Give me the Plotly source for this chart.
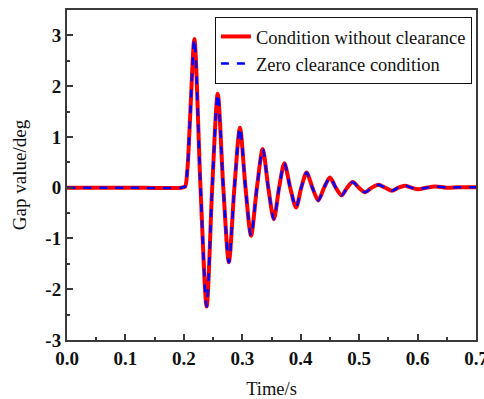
import plotly.graph_objects as go

# Time (s) at extrema / zero crossings
time_s = [0.0, 0.100, 0.196, 0.202, 0.206, 0.211, 0.218, 0.2285, 0.239, 0.2485, 0.258,
          0.2675, 0.277, 0.2865, 0.296, 0.3055, 0.315, 0.325, 0.335, 0.3445,
          0.354, 0.363, 0.372, 0.382, 0.392, 0.401, 0.410, 0.420, 0.430, 0.440,
          0.450, 0.460, 0.470, 0.4795, 0.489, 0.4995, 0.510, 0.5215, 0.533,
          0.5445, 0.556, 0.567, 0.578, 0.5895, 0.601, 0.615, 0.630, 0.650,
          0.670, 0.700]

# Gap value (deg), condition without clearance
gap_without = [0.0, 0.0, 0.0, 0.02, 0.35, 1.46, 2.93, 0.0, -2.34, 0.0, 1.85,
               0.0, -1.47, 0.0, 1.18, 0.0, -0.945, 0.0, 0.76, 0.0,
               -0.62, 0.0, 0.48, 0.0, -0.39, 0.0, 0.30, 0.0, -0.25, 0.0,
               0.20, 0.0, -0.15, 0.0, 0.11, 0.0, -0.09, 0.0, 0.06,
               0.0, -0.06, 0.0, 0.04, 0.0, -0.03, 0.0, 0.025, 0.0,
               0.01, 0.01]

# Gap value (deg), zero clearance condition
gap_zero = [0.0, 0.0, 0.0, 0.02, 0.35, 1.46, 2.93, 0.0, -2.34, 0.0, 1.85,
            0.0, -1.47, 0.0, 1.18, 0.0, -0.945, 0.0, 0.76, 0.0,
            -0.62, 0.0, 0.48, 0.0, -0.39, 0.0, 0.30, 0.0, -0.25, 0.0,
            0.20, 0.0, -0.15, 0.0, 0.11, 0.0, -0.09, 0.0, 0.06,
            0.0, -0.06, 0.0, 0.04, 0.0, -0.03, 0.0, 0.025, 0.0,
            0.01, 0.01]

x_tickvals = [0.0, 0.1, 0.2, 0.3, 0.4, 0.5, 0.6, 0.7]
x_ticktext = ["0.0", "0.1", "0.2", "0.3", "0.4", "0.5", "0.6", "0.7"]
y_tickvals = [-3, -2, -1, 0, 1, 2, 3]
y_ticktext = ["-3", "-2", "-1", "0", "1", "2", "3"]

FONT = "Liberation Serif"
AX = "#3a3a3a"

fig = go.Figure()
fig.add_trace(go.Scatter(
    x=time_s, y=gap_without, mode="lines", name="Condition without clearance",
    line=dict(color="#ff0000", width=4, shape="spline", smoothing=0.8)))
fig.add_trace(go.Scatter(
    x=time_s, y=gap_zero, mode="lines", name="Zero clearance condition",
    line=dict(color="#0000ff", width=2.5, dash="8px,8px", shape="spline", smoothing=0.8)))

axis_common = dict(
    showline=True, linecolor=AX, linewidth=2, mirror=True,
    ticks="inside", ticklen=6, tickwidth=1.5, tickcolor=AX,
    showgrid=False, zeroline=False, ticklabeloverflow="allow", automargin=False,
    tickfont=dict(family=FONT, size=19, color="#111", weight="bold"),
)

fig.update_xaxes(
    range=[0, 0.7], tickmode="array", tickvals=x_tickvals, ticktext=x_ticktext,
    minor=dict(ticks="inside", ticklen=3, dtick=0.05, tick0=0, tickcolor=AX, tickwidth=1.5),
    title=dict(text="Time/s", font=dict(family=FONT, size=18.5, color="#111"), standoff=22),
    **axis_common)
fig.update_yaxes(
    range=[-3, 3.5], tickmode="array", tickvals=y_tickvals, ticktext=y_ticktext,
    minor=dict(ticks="inside", ticklen=3, dtick=0.5, tick0=0, tickcolor=AX, tickwidth=1.5),
    title=dict(text="Gap value/deg", font=dict(family=FONT, size=19, color="#111"), standoff=14),
    **axis_common)

fig.update_layout(
    width=484, height=399,
    margin=dict(l=67, r=8, t=10, b=59),
    paper_bgcolor="white", plot_bgcolor="white",
    font=dict(family=FONT, color="#111"),
    legend=dict(
        x=0.990, y=0.979, xanchor="right", yanchor="top",
        bgcolor="white", bordercolor="#111", borderwidth=1,
        font=dict(family=FONT, size=18.5, color="#111"),
        tracegroupgap=0, itemwidth=30,
    ),
    showlegend=True,
)

fig.write_html("out.html")
